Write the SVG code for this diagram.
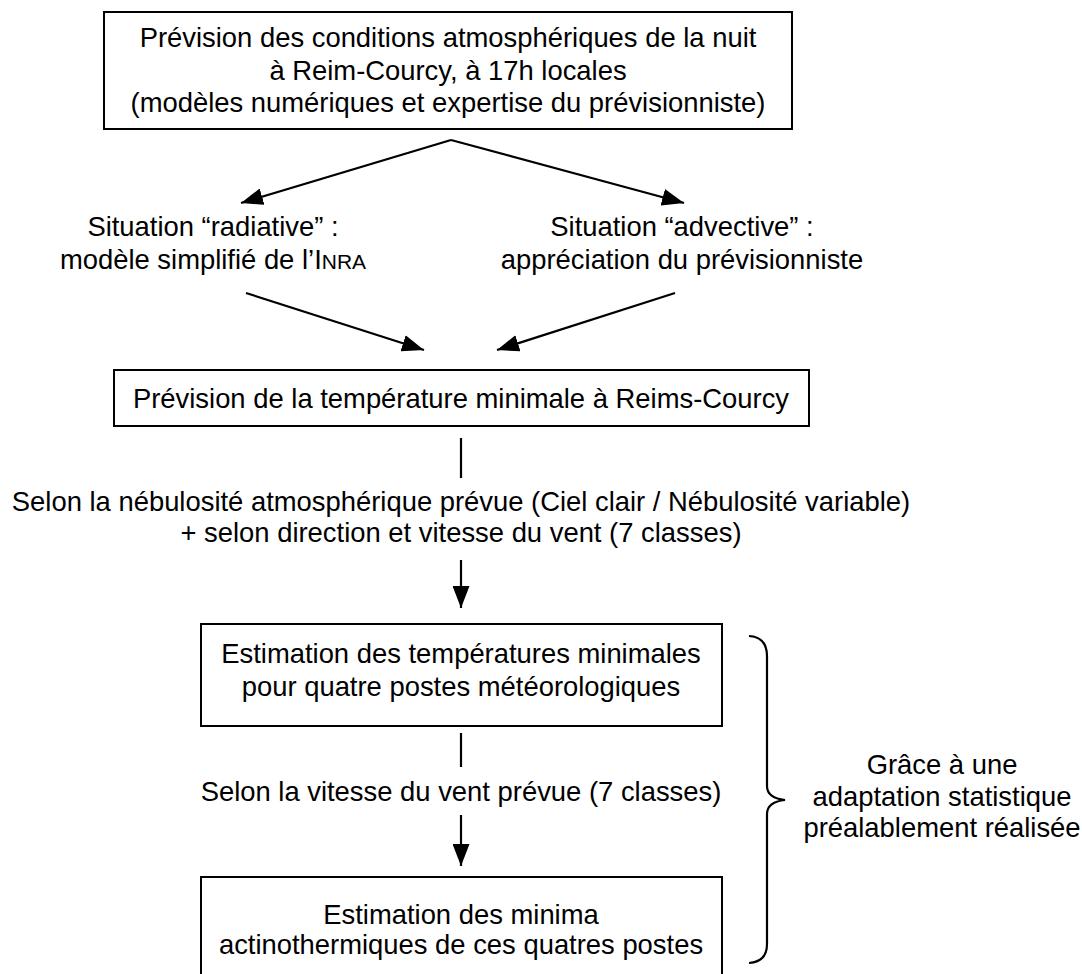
<svg xmlns="http://www.w3.org/2000/svg" width="1082" height="974" viewBox="0 0 1082 974">
<style>
text{font-family:"Liberation Sans",Arial,sans-serif;font-size:27.4px;fill:#000;text-anchor:middle}
.box{fill:#fff;stroke:#000;stroke-width:2}
.ln{stroke:#000;stroke-width:2.2;fill:none}
.sc{font-size:21px}
</style>
<defs>
<marker id="ahb" viewBox="0 0 10 10" refX="10" refY="5" markerWidth="22" markerHeight="17" markerUnits="userSpaceOnUse" orient="auto" preserveAspectRatio="none">
<path d="M0,0 L10,5 L0,10 z" fill="#000"/>
</marker>
</defs>
<rect width="1082" height="974" fill="#fff"/>
<g id="connectors">
<line class="ln" x1="451" y1="140" x2="241" y2="203" marker-end="url(#ahb)"/>
<line class="ln" x1="451" y1="140" x2="684" y2="203" marker-end="url(#ahb)"/>
<line class="ln" x1="246" y1="293" x2="424" y2="350" marker-end="url(#ahb)"/>
<line class="ln" x1="675" y1="293" x2="497" y2="350" marker-end="url(#ahb)"/>
<line class="ln" x1="461" y1="438" x2="461" y2="478"/>
<line class="ln" x1="461" y1="560" x2="461" y2="608" marker-end="url(#ahb)"/>
<line class="ln" x1="461" y1="733" x2="461" y2="767"/>
<line class="ln" x1="461" y1="815" x2="461" y2="866" marker-end="url(#ahb)"/>
<path class="ln" d="M749 636 Q767 637 767 656 L767 786 Q767 798 785 800 Q767 802 767 814 L767 944 Q767 962 749 963"/>
</g>
<g id="n1">
<rect class="box" x="104" y="12" width="688" height="117"/>
<text x="448" y="47">Prévision des conditions atmosphériques de la nuit</text>
<text x="448" y="80">à Reim-Courcy, à 17h locales</text>
<text x="448" y="112">(modèles numériques et expertise du prévisionniste)</text>
</g>
<g id="n2">
<text x="213" y="236">Situation “radiative” :</text>
<text x="213" y="269">modèle simplifié de l’I<tspan class="sc">NRA</tspan></text>
</g>
<g id="n3">
<text x="682" y="236">Situation “advective” :</text>
<text x="682" y="269">appréciation du prévisionniste</text>
</g>
<g id="n4">
<rect class="box" x="114" y="370" width="695" height="56"/>
<text x="461" y="408">Prévision de la température minimale à Reims-Courcy</text>
</g>
<g id="l1">
<text x="461" y="511">Selon la nébulosité atmosphérique prévue (Ciel clair / Nébulosité variable)</text>
<text x="461" y="542">+ selon direction et vitesse du vent (7 classes)</text>
</g>
<g id="n5">
<rect class="box" x="201" y="624" width="521" height="102"/>
<text x="461" y="663">Estimation des températures minimales</text>
<text x="461" y="696">pour quatre postes météorologiques</text>
</g>
<g id="l2">
<text x="461" y="801">Selon la vitesse du vent prévue (7 classes)</text>
</g>
<g id="n6">
<rect class="box" x="201" y="877" width="521" height="110"/>
<text x="461" y="924">Estimation des minima</text>
<text x="461" y="954">actinothermiques de ces quatres postes</text>
</g>
<g id="n7">
<text x="942" y="774">Grâce à une</text>
<text x="942" y="806">adaptation statistique</text>
<text x="942" y="837">préalablement réalisée</text>
</g>
</svg>
